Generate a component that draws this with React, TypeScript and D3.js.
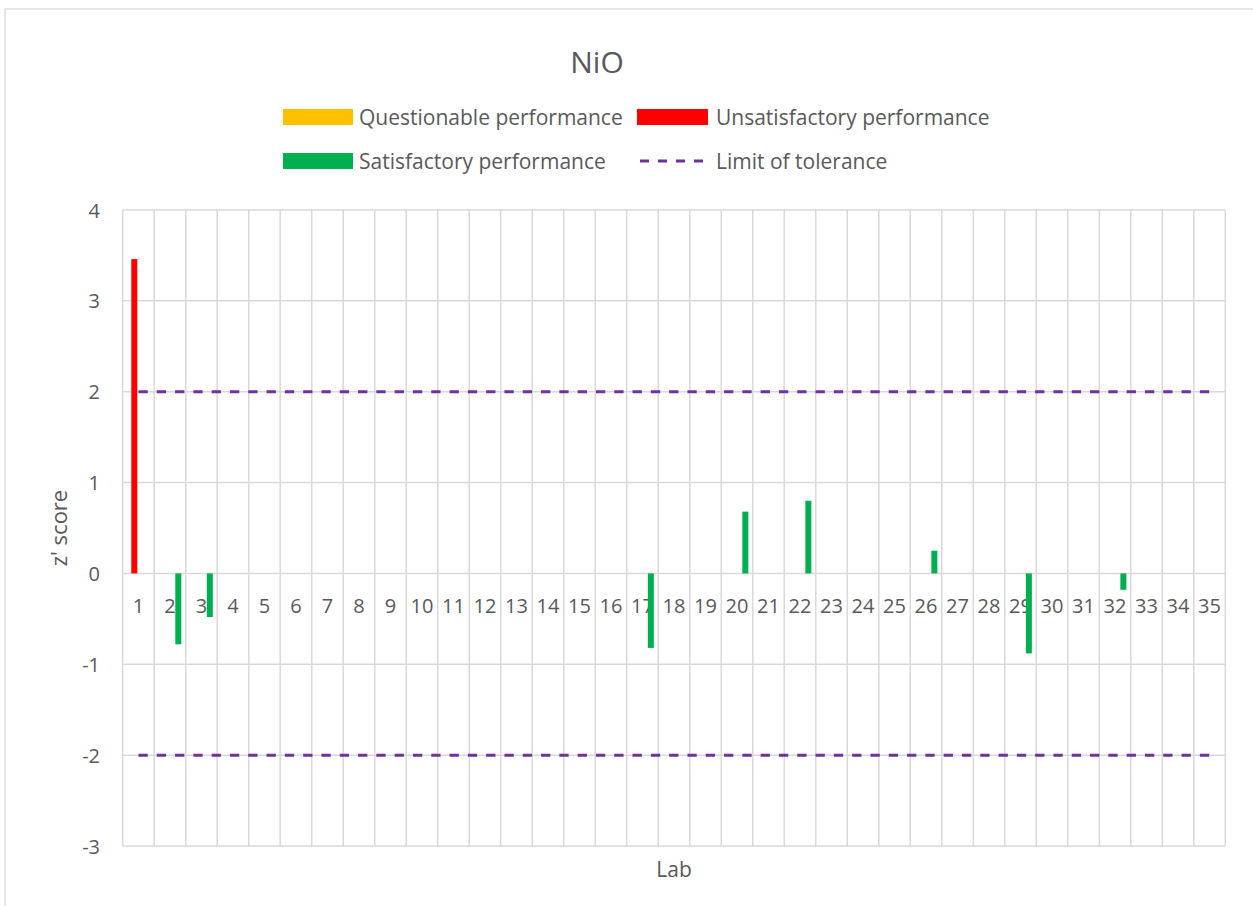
import React from "react";
import * as d3 from "d3";

const labs: string[] = Array.from({ length: 35 }, (_, i) => String(i + 1));
const seriesKeys = ["Questionable performance", "Unsatisfactory performance", "blank", "Satisfactory performance"];
const questionable: { lab: string; z: number }[] = [];
const unsatisfactory: { lab: string; z: number }[] = [{ lab: "1", z: 3.46 }];
const satisfactory: { lab: string; z: number }[] = [
  { lab: "2", z: -0.78 },
  { lab: "3", z: -0.48 },
  { lab: "17", z: -0.82 },
  { lab: "20", z: 0.68 },
  { lab: "22", z: 0.8 },
  { lab: "26", z: 0.25 },
  { lab: "29", z: -0.88 },
  { lab: "32", z: -0.18 },
];
const yTicks = [4, 3, 2, 1, 0, -1, -2, -3];
const toleranceLimits = [2, -2];

const COLORS: Record<string, string> = {
  "Questionable performance": "#FFC000",
  "Unsatisfactory performance": "#FF0000",
  "Satisfactory performance": "#00B050",
};
const LIMIT_COLOR = "#7030A0";
const GRID = "#d9d9d9";
const TEXT = "#595959";
const FONT = "'Open Sans', sans-serif";

export default function App() {
  const W = 1253, H = 906;
  const left = 122.7, right = 1225.3, top = 210, bottom = 846;
  const x = d3.scaleBand<string>().domain(labs).range([left, right]).padding(0);
  const y = d3.scaleLinear().domain([-3, 4]).range([bottom, top]);
  const sub = d3.scaleBand<string>().domain(seriesKeys).range([0, x.bandwidth()]).paddingInner(0).paddingOuter(0.52).align(0.36);

  const seriesData: [string, { lab: string; z: number }[]][] = [
    ["Questionable performance", questionable],
    ["Unsatisfactory performance", unsatisfactory],
    ["Satisfactory performance", satisfactory],
  ];

  const lineGen = d3.line<string>().x((d) => (x(d) as number) + x.bandwidth() / 2);

  return (
    <svg width={W} height={H} style={{ position: "absolute", left: 0, top: 0, background: "#fff" }} fontFamily={FONT}>
      <rect x={5} y={9} width={W + 10} height={H + 10} fill="#fff" stroke={GRID} strokeWidth={1.3} />
      <text x={597} y={61} textAnchor="middle" dominantBaseline="central" fontSize={30} fill={TEXT}>NiO</text>

      {/* Legend */}
      <g fontSize={21} fill={TEXT}>
        <rect x={283} y={109} width={70} height={16} fill={COLORS["Questionable performance"]} />
        <text x={359} y={117} dominantBaseline="central">Questionable performance</text>
        <rect x={637} y={109} width={71} height={16} fill={COLORS["Unsatisfactory performance"]} />
        <text x={716} y={117} dominantBaseline="central">Unsatisfactory performance</text>
        <rect x={283} y={153} width={70} height={16} fill={COLORS["Satisfactory performance"]} />
        <text x={359} y={161} dominantBaseline="central">Satisfactory performance</text>
        <line x1={640} x2={708} y1={161} y2={161} stroke={LIMIT_COLOR} strokeWidth={3} strokeDasharray="9,9" />
        <text x={716} y={161} dominantBaseline="central">Limit of tolerance</text>
      </g>

      {/* Gridlines */}
      <g stroke={GRID} strokeWidth={1.5}>
        {yTicks.map((t) => (
          <line key={"h" + t} x1={left} x2={right} y1={y(t)} y2={y(t)} />
        ))}
        {labs.map((l) => (
          <line key={"v" + l} x1={x(l)} x2={x(l)} y1={top} y2={bottom} />
        ))}
        <line x1={right} x2={right} y1={top} y2={bottom} />
      </g>

      {/* Y tick labels */}
      <g fontSize={20} fill={TEXT}>
        {yTicks.map((t) => (
          <text key={"yt" + t} x={100} y={y(t)} textAnchor="end" dominantBaseline="central">{t}</text>
        ))}
      </g>

      {/* Category labels */}
      <g fontSize={20} fill={TEXT}>
        {labs.map((l) => (
          <text key={"c" + l} x={(x(l) as number) + x.bandwidth() / 2} y={605} textAnchor="middle" dominantBaseline="central">{l}</text>
        ))}
      </g>

      {/* Bars */}
      {seriesData.map(([key, data]) => (
        <g key={key} fill={COLORS[key]}>
          {data.map((d) => (
            <rect
              key={d.lab}
              x={(x(d.lab) as number) + (sub(key) as number)}
              width={sub.bandwidth() - 0.25}
              y={Math.min(y(d.z), y(0))}
              height={Math.abs(y(d.z) - y(0))}
            />
          ))}
        </g>
      ))}

      {/* Tolerance lines */}
      {toleranceLimits.map((lim) => (
        <path
          key={"lim" + lim}
          d={lineGen.y(() => y(lim))([labs[0], labs[labs.length - 1]]) || ""}
          stroke={LIMIT_COLOR}
          strokeWidth={3}
          strokeDasharray="9.3,9"
          fill="none"
        />
      ))}

      {/* Axis titles */}
      <text x={58} y={528} transform="rotate(-90 58 528)" textAnchor="middle" dominantBaseline="central" fontSize={22} fill={TEXT}>z' score</text>
      <text x={674} y={869} textAnchor="middle" dominantBaseline="central" fontSize={21} fill={TEXT}>Lab</text>
    </svg>
  );
}
